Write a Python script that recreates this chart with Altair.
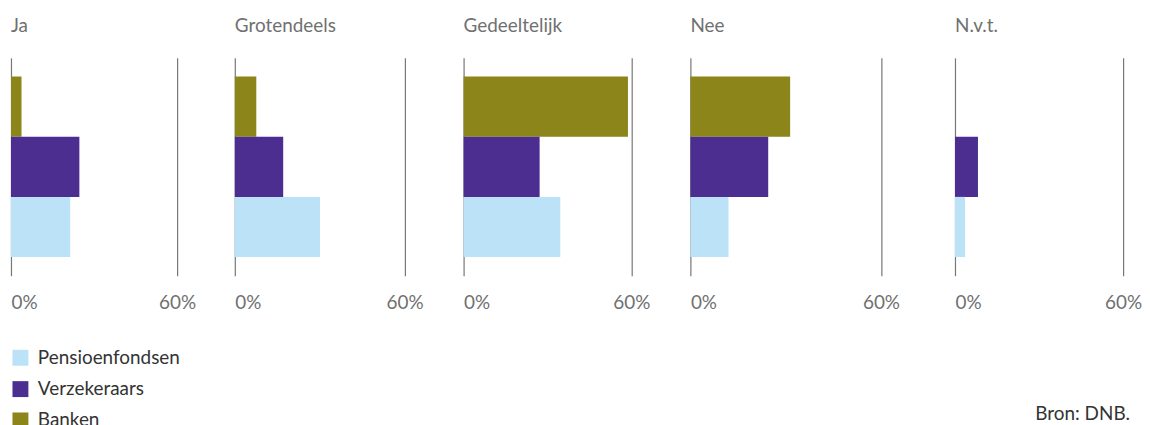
import altair as alt
import pandas as pd

# ---- data ----
categories = ["Ja", "Grotendeels", "Gedeeltelijk", "Nee", "N.v.t."]
series = ["Pensioenfondsen", "Verzekeraars", "Banken"]
banken = [3.8, 7.6, 58.8, 31.4, 0.0]
verzekeraars = [24.7, 17.1, 27.2, 24.5, 8.2]
pensioenfondsen = [21.4, 30.1, 34.6, 12.0, 3.6]
colors = ["#bce2f7", "#4b2e8f", "#8b851a"]
tick_values = [0, 60]
source_text = "Bron: DNB."

# ---- layout (pixels) ----
panel_width = [225, 229.4, 228, 265.3, 175]
span60 = [167, 170.7, 168.6, 191.6, 169]
FONT = "Lato"
GRAY = "#707070"
DARK = "#333333"

rows = []
for i, c in enumerate(categories):
    rows.append({"cat": c, "series": "Banken", "value": banken[i]})
    rows.append({"cat": c, "series": "Verzekeraars", "value": verzekeraars[i]})
    rows.append({"cat": c, "series": "Pensioenfondsen", "value": pensioenfondsen[i]})
df = pd.DataFrame(rows)

color_scale = alt.Scale(domain=series, range=colors)

panels = []
for i, c in enumerate(categories):
    dmax = 60 * panel_width[i] / span60[i]
    bars = alt.Chart(df[df["cat"] == c]).mark_bar().encode(
        x=alt.X(
            "value:Q",
            scale=alt.Scale(domain=[0, dmax], nice=False, zero=True),
            axis=alt.Axis(
                values=tick_values,
                labelExpr="datum.value + '%'",
                grid=True,
                ticks=False,
                domain=False,
                labelFlush=True,
                labelPadding=18,
                title=None,
            ),
        ),
        y=alt.Y(
            "series:N",
            sort=["Banken", "Verzekeraars", "Pensioenfondsen"],
            axis=None,
            scale=alt.Scale(paddingInner=0, paddingOuter=0.31),
        ),
        color=alt.Color(
            "series:N",
            scale=color_scale,
            legend=alt.Legend(
                title=None,
                orient="none",
                legendX=0,
                legendY=292,
                symbolType="square",
                symbolSize=256,
                symbolStrokeWidth=0,
                symbolOpacity=1,
                labelFontSize=19,
                labelFont=FONT,
                labelColor=DARK,
                labelOffset=8,
                rowPadding=11.5,
                padding=0,
            ),
        ),
    )
    layer = bars
    if i == len(categories) - 1:
        src = alt.Chart(pd.DataFrame({"t": [source_text]})).mark_text(
            align="right", baseline="middle", fontSize=19, font=FONT, color=DARK
        ).encode(text="t:N", x=alt.value(176), y=alt.value(358))
        layer = alt.layer(bars, src)
    layer = layer.properties(
        width=panel_width[i],
        height=219,
        title=alt.TitleParams(
            c, anchor="start", fontSize=19, font=FONT, color=GRAY,
            fontWeight="normal", offset=22,
        ),
    )
    panels.append(layer)

chart = alt.hconcat(*panels, spacing=0).properties(
    padding={"left": 3, "top": 8, "right": 0, "bottom": 3}
).configure_view(strokeWidth=0).configure_axis(
    gridColor="#777777",
    gridWidth=1.2,
    labelFont=FONT,
    labelFontSize=19,
    labelColor=GRAY,
).configure_concat(spacing=0)

chart.save("out.html", embed_options={"renderer": "svg", "actions": False})
